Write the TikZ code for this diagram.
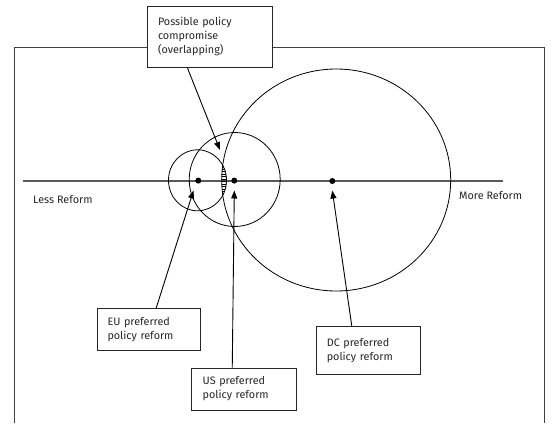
\documentclass[tikz,border=0pt]{standalone}
\usepackage{fontspec}
\setmainfont{Fira Sans}
\usetikzlibrary{arrows.meta}
\begin{document}
\begin{tikzpicture}[x=1pt,y=-1pt,
  txtbox/.style={draw=black!85, line width=0.9pt, fill=white, align=left,
    font=\fontsize{10.8}{14}\selectfont, text=black!85, inner xsep=0pt, inner ysep=0pt,
    anchor=center},
  ring/.style={draw=black, line width=0.8pt},
  ptr/.style={draw=black, line width=0.9pt, -{Triangle[length=8pt,width=6pt]}},
  dot/.style={circle, fill=black, inner sep=0pt, minimum size=6pt},
  lbl/.style={font=\fontsize{10.8}{14}\selectfont, text=black!85, inner sep=0pt, anchor=west}
]
\useasboundingbox (0,0) rectangle (553,423);
% frame
\draw[black!75, line width=1pt] (14.7,423) -- (14.7,47) -- (544,47) -- (544,423);
% axis
\draw[black!65, line width=1.1pt] (23,181) -- (503,181);
% circles
\coordinate (cEU) at (197.5,180.3);
\coordinate (cUS) at (234.7,179.5);
\coordinate (cDC) at (336.2,180);
\draw[ring] (cEU) ellipse [x radius=29, y radius=30.5];
\draw[ring] (cUS) ellipse [x radius=45.5, y radius=47];
\draw[ring] (cDC) ellipse [x radius=114.5, y radius=111];
% hatched overlap
\begin{scope}
  \clip (cEU) ellipse [x radius=29, y radius=30.5];
  \clip (cDC) ellipse [x radius=114.5, y radius=111];
  \foreach \yy in {166.5,169,...,196} \draw[black, line width=0.5pt] (215,\yy) -- (235,\yy);
\end{scope}
% dots
\node[dot] (dEU) at (198.3,180.6) {};
\node[dot] (dUS) at (234.3,180.6) {};
\node[dot] (dDC) at (332.3,181) {};
% boxes
\node[txtbox, minimum width=124.6pt, minimum height=61.7pt, text width=104pt] (top) at (210,36.9)
  {Possible policy\\compromise\\(overlapping)};
\node[txtbox, minimum width=103.4pt, minimum height=42.4pt, text width=83pt] (eu) at (149,329.5)
  {EU preferred\\policy reform};
\node[txtbox, minimum width=105pt, minimum height=42pt, text width=83pt] (us) at (244.2,389)
  {US preferred\\policy reform};
\node[txtbox, minimum width=103.3pt, minimum height=47.3pt, text width=83pt] (dc) at (368.3,350.3)
  {DC preferred\\policy reform};
% labels
\node[lbl] (less) at (33,199.5) {Less Reform};
\node[lbl] (more) at (459,196) {More Reform};
% pointers
\coordinate (tTop) at (220,150);
\coordinate (tEU) at (193.5,190.5);
\coordinate (tUS) at (234.3,190.5);
\coordinate (tDC) at (332.3,190.5);
\draw[ptr] (top.south west) ++(40.3,0) -- (tTop);
\draw[ptr] (eu.north west) ++(59.4,0) -- (tEU);
\draw[ptr] (us.north west) ++(41,0) -- (tUS);
\draw[ptr] (dc.north west) ++(35.6,0) -- (tDC);
\end{tikzpicture}
\end{document}
